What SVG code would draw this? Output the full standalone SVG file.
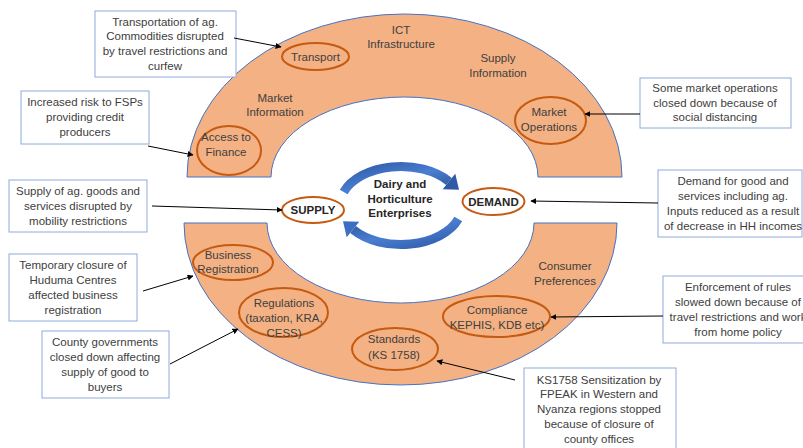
<svg xmlns="http://www.w3.org/2000/svg" width="803" height="448" viewBox="0 0 803 448">
  <style>
    .band { fill: #F4B183; stroke: #4472C4; stroke-width: 1; }
    .oval { fill: none; stroke: #C55A11; stroke-width: 2; }
    .ovalw { fill: #FFFFFF; stroke: #C55A11; stroke-width: 2; }
    .box { fill: #FFFFFF; stroke: #8FAADC; stroke-width: 1; }
    .t { font-family: "Liberation Sans", Arial, sans-serif; font-size: 11.5px; fill: #404040; text-anchor: middle; }
    .tb { font-family: "Liberation Sans", Arial, sans-serif; font-size: 11.5px; font-weight: bold; fill: #262626; text-anchor: middle; }
    .conn { stroke: #000000; stroke-width: 1; fill: none; marker-end: url(#arrow); }
    .cyc { fill: none; stroke: url(#blueGrad); stroke-width: 9; }
  </style>
  <defs>
    <marker id="arrow" viewBox="0 0 10 10" refX="9" refY="5" markerWidth="6" markerHeight="6" orient="auto" markerUnits="userSpaceOnUse">
      <path d="M0,0 L10,5 L0,10 Z" fill="#000000"/>
    </marker>
    <linearGradient id="blueGrad" x1="0" y1="0" x2="1" y2="1">
      <stop offset="0" stop-color="#2F5AA8"/>
      <stop offset="0.5" stop-color="#4A7ED1"/>
      <stop offset="1" stop-color="#2B5597"/>
    </linearGradient>
  </defs>

  <!-- upper half-ring -->
  <g id="upper-ring">
    <path class="band" d="M187 177 A217.5 163 0 0 1 622 177 L538 177 A133.5 80 0 0 0 271 177 Z"/>
    <text class="t" x="401" y="34">ICT</text>
    <text class="t" x="401" y="48">Infrastructure</text>
    <text class="t" x="498" y="62">Supply</text>
    <text class="t" x="498" y="77">Information</text>
    <text class="t" x="275" y="102">Market</text>
    <text class="t" x="275" y="116">Information</text>
  </g>
  <g id="transport">
    <ellipse class="oval" cx="315.5" cy="56.5" rx="33.5" ry="13.5"/>
    <text class="t" x="315.5" y="61">Transport</text>
  </g>
  <g id="access-to-finance">
    <ellipse class="oval" cx="229" cy="150.5" rx="32" ry="24.5"/>
    <text class="t" x="226" y="141">Access to</text>
    <text class="t" x="226" y="156">Finance</text>
  </g>
  <g id="market-operations">
    <ellipse class="oval" cx="550.5" cy="120.5" rx="35.5" ry="23.5"/>
    <text class="t" x="549" y="116">Market</text>
    <text class="t" x="549" y="131">Operations</text>
  </g>

  <!-- lower half-ring -->
  <g id="lower-ring">
    <path class="band" d="M184 223 A216.5 162 0 0 0 617 223 L534 223 A133.5 80 0 0 1 267 223 Z"/>
    <text class="t" x="565" y="270">Consumer</text>
    <text class="t" x="565" y="285">Preferences</text>
  </g>
  <g id="business-registration">
    <ellipse class="oval" cx="233" cy="262.5" rx="40" ry="17.5"/>
    <text class="t" x="228" y="259">Business</text>
    <text class="t" x="228" y="273">Registration</text>
  </g>
  <g id="regulations">
    <ellipse class="oval" cx="283.5" cy="312.5" rx="44.5" ry="24.5"/>
    <text class="t" x="284" y="307">Regulations</text>
    <text class="t" x="284" y="322">(taxation, KRA,</text>
    <text class="t" x="284" y="337">CESS)</text>
  </g>
  <g id="standards">
    <ellipse class="oval" cx="395" cy="349" rx="43" ry="21"/>
    <text class="t" x="394" y="343">Standards</text>
    <text class="t" x="394" y="359">(KS 1758)</text>
  </g>
  <g id="compliance">
    <ellipse class="oval" cx="496.5" cy="316.5" rx="53.5" ry="20.5"/>
    <text class="t" x="497" y="314">Compliance</text>
    <text class="t" x="497" y="329">KEPHIS, KDB etc)</text>
  </g>

  <!-- central cycle -->
  <g id="cycle">
    <path class="cyc" d="M343.7 192 A61 39 0 0 1 449 181.5"/>
    <polygon points="455.3,173.8 459,189.7 442.7,189.3" fill="#2F5AA8"/>
    <g transform="rotate(180 401 205.5)">
      <path class="cyc" d="M343.7 192 A61 39 0 0 1 449 181.5"/>
      <polygon points="455.3,173.8 459,189.7 442.7,189.3" fill="#3C6EC4"/>
    </g>
    <text class="tb" x="400" y="188">Dairy and</text>
    <text class="tb" x="400" y="203">Horticulture</text>
    <text class="tb" x="400" y="217">Enterprises</text>
  </g>
  <g id="supply">
    <ellipse class="ovalw" cx="313" cy="210" rx="31" ry="13"/>
    <text class="tb" x="313" y="214">SUPPLY</text>
  </g>
  <g id="demand">
    <ellipse class="ovalw" cx="493.5" cy="201.5" rx="31" ry="13.5"/>
    <text class="tb" x="493.5" y="205.5">DEMAND</text>
  </g>

  <!-- callout boxes -->
  <g id="note-transport">
    <rect class="box" x="95" y="11" width="141" height="66"/>
    <text class="t" x="165" y="26">Transportation of ag.</text>
    <text class="t" x="165" y="40">Commodities disrupted</text>
    <text class="t" x="165" y="55">by travel restrictions and</text>
    <text class="t" x="165" y="70">curfew</text>
  </g>
  <g id="note-finance">
    <rect class="box" x="21" y="91" width="128" height="53"/>
    <text class="t" x="85" y="106">Increased risk to FSPs</text>
    <text class="t" x="85" y="121">providing credit</text>
    <text class="t" x="85" y="136">producers</text>
  </g>
  <g id="note-supply">
    <rect class="box" x="9" y="180" width="138" height="52"/>
    <text class="t" x="78" y="195">Supply of ag. goods and</text>
    <text class="t" x="78" y="210">services disrupted by</text>
    <text class="t" x="78" y="225">mobility restrictions</text>
  </g>
  <g id="note-registration">
    <rect class="box" x="9" y="254" width="128" height="67"/>
    <text class="t" x="73" y="269">Temporary closure of</text>
    <text class="t" x="73" y="284">Huduma Centres</text>
    <text class="t" x="73" y="299">affected business</text>
    <text class="t" x="73" y="314">registration</text>
  </g>
  <g id="note-regulations">
    <rect class="box" x="42" y="331" width="127" height="67"/>
    <text class="t" x="105" y="346">County governments</text>
    <text class="t" x="105" y="361">closed down affecting</text>
    <text class="t" x="105" y="376">supply of good to</text>
    <text class="t" x="105" y="391">buyers</text>
  </g>
  <g id="note-operations">
    <rect class="box" x="640" y="78" width="151" height="50"/>
    <text class="t" x="715" y="92">Some market operations</text>
    <text class="t" x="715" y="107">closed down because of</text>
    <text class="t" x="715" y="121">social distancing</text>
  </g>
  <g id="note-demand">
    <rect class="box" x="658" y="170" width="144" height="67"/>
    <text class="t" x="733" y="185">Demand for good and</text>
    <text class="t" x="733" y="200">services including ag.</text>
    <text class="t" x="733" y="215">Inputs reduced as a result</text>
    <text class="t" x="733" y="230">of decrease in HH incomes</text>
  </g>
  <g id="note-compliance">
    <rect class="box" x="663" y="276" width="152" height="67"/>
    <text class="t" x="738" y="291">Enforcement of rules</text>
    <text class="t" x="738" y="306">slowed down because of</text>
    <text class="t" x="738" y="321">travel restrictions and work</text>
    <text class="t" x="738" y="336">from home policy</text>
  </g>
  <g id="note-standards">
    <rect class="box" x="524" y="368" width="152" height="90"/>
    <text class="t" x="599" y="384">KS1758 Sensitization by</text>
    <text class="t" x="599" y="398">FPEAK in Western and</text>
    <text class="t" x="599" y="413">Nyanza regions stopped</text>
    <text class="t" x="599" y="428">because of closure of</text>
    <text class="t" x="599" y="443">county offices</text>
  </g>

  <!-- connectors -->
  <g id="connectors">
    <line class="conn" x1="234" y1="38" x2="281" y2="47"/>
    <line class="conn" x1="148" y1="146" x2="193" y2="155"/>
    <line class="conn" x1="152" y1="206" x2="282" y2="210"/>
    <line class="conn" x1="143" y1="291" x2="193" y2="276"/>
    <line class="conn" x1="170" y1="364" x2="238" y2="329"/>
    <line class="conn" x1="640" y1="114" x2="585" y2="114"/>
    <line class="conn" x1="658" y1="203" x2="531" y2="201"/>
    <line class="conn" x1="663" y1="316" x2="551" y2="317"/>
    <line class="conn" x1="515" y1="380" x2="437" y2="361"/>
  </g>
</svg>
